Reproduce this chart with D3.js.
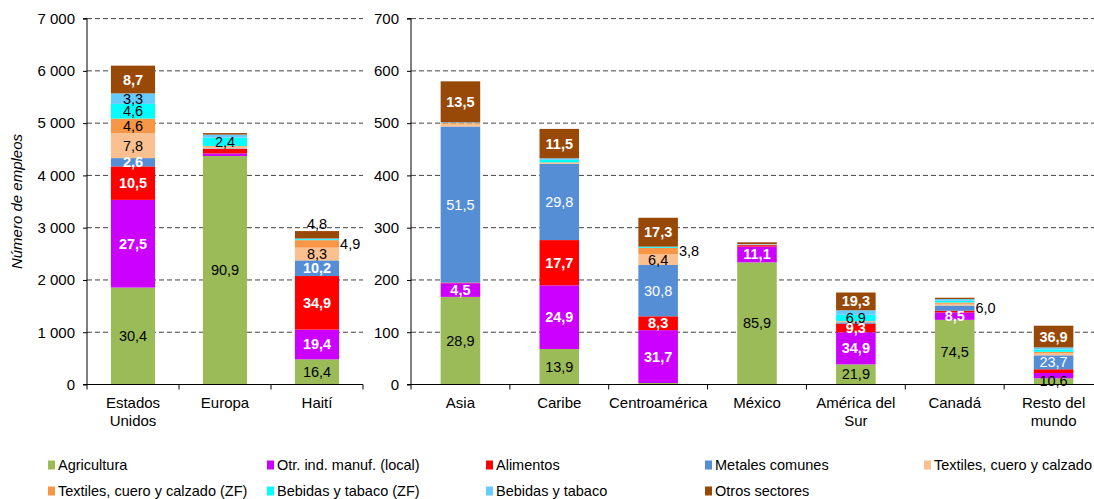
<!DOCTYPE html>
<html>
<head>
<meta charset="utf-8">
<script src="https://cdn.jsdelivr.net/npm/d3@7"></script>
<style>
  html, body { margin: 0; padding: 0; background: #fff; }
  svg { display: block; font-family: "Liberation Sans", Arial, sans-serif; }
</style>
</head>
<body>
<svg id="chart" width="1094" height="499"></svg>
<script>
// ---------------- DATA ----------------
const categories = ["Estados Unidos", "Europa", "Haití", "Asia", "Caribe", "Centroamérica", "México", "América del Sur", "Canadá", "Resto del mundo"];
const categoryLines = [["Estados", "Unidos"], ["Europa"], ["Haití"], ["Asia"], ["Caribe"], ["Centroamérica"], ["México"], ["América del", "Sur"], ["Canadá"], ["Resto del", "mundo"]];
const totals = [6100, 4810, 2935, 580, 489, 319, 272, 176, 166, 112.5];

const seriesNames = ["Agricultura", "Otr. ind. manuf. (local)", "Alimentos", "Metales comunes", "Textiles, cuero y calzado",
  "Textiles, cuero y calzado (ZF)", "Bebidas y tabaco (ZF)", "Bebidas y tabaco", "Otros sectores"];
const seriesColors = ["#9BBB59", "#CC00FF", "#FF0000", "#558ED5", "#FAC090", "#F79646", "#00FFFF", "#66CCFF", "#984807"];

// shares (%) of each sector per destination
const agricultura   = [30.4, 90.9, 16.4, 28.9, 13.9,  0.9, 85.9, 21.9, 74.5, 10.6];
const otrManuf      = [27.5,  1.0, 19.4,  4.5, 24.9, 31.7, 11.1, 34.9,  8.5,  9.0];
const alimentos     = [10.5,  1.8, 34.9,  0.2, 17.7,  8.3,  1.0,  9.3,  2.0,  6.3];
const metales       = [ 2.6,  0.2, 10.2, 51.5, 29.8, 30.8,  0.2,  1.5,  6.0, 23.7];
const textiles      = [ 7.8,  0.7,  8.3,  1.0,  0.4,  6.4,  0.3,  1.0,  2.0,  3.5];
const textilesZF    = [ 4.6,  0.3,  4.9,  0.2,  0.2,  3.8,  0.0,  0.3,  1.5,  2.5];
const bebidasZF     = [ 4.6,  3.3,  0.6,  0.0,  1.0,  0.5,  0.0,  6.9,  2.0,  4.0];
const bebidas       = [ 3.3,  1.2,  0.5,  0.2,  0.6,  0.3,  0.3,  4.9,  2.0,  3.5];
const otros         = [ 8.7,  0.6,  4.8, 13.5, 11.5, 17.3,  1.2, 19.3,  1.5, 36.9];

// data labels shown in the chart (null = not shown)
const lblAgricultura = ["30,4", "90,9", "16,4", "28,9", "13,9", null, "85,9", "21,9", "74,5", "10,6"];
const lblOtrManuf    = ["27,5", null, "19,4", "4,5", "24,9", "31,7", "11,1", "34,9", "8,5", null];
const lblAlimentos   = ["10,5", null, "34,9", null, "17,7", "8,3", null, "9,3", null, null];
const lblMetales     = ["2,6", null, "10,2", "51,5", "29,8", "30,8", null, null, "6,0", "23,7"];
const lblTextiles    = ["7,8", null, "8,3", null, null, "6,4", null, null, null, null];
const lblTextilesZF  = ["4,6", null, "4,9", null, null, "3,8", null, null, null, null];
const lblBebidasZF   = ["4,6", "2,4", null, null, null, null, null, "6,9", null, null];
const lblBebidas     = ["3,3", null, null, null, null, null, null, null, null, null];
const lblOtros       = ["8,7", null, "4,8", "13,5", "11,5", "17,3", null, "19,3", null, "36,9"];

const leftTicks = [0, 1000, 2000, 3000, 4000, 5000, 6000, 7000];
const rightTicks = [0, 100, 200, 300, 400, 500, 600, 700];
const yTitle = "Número de empleos";

// ---------------- DRAW ----------------
const shares = [agricultura, otrManuf, alimentos, metales, textiles, textilesZF, bebidasZF, bebidas, otros];
const labels = [lblAgricultura, lblOtrManuf, lblAlimentos, lblMetales, lblTextiles, lblTextilesZF, lblBebidasZF, lblBebidas, lblOtros];

const svg = d3.select("#chart");
const FONT = "\"Liberation Sans\", Arial, sans-serif";

const rows = categories.map((c, i) => {
  const r = { cat: c, idx: i };
  seriesNames.forEach((s, k) => { r[s] = totals[i] * shares[k][i] / 100; });
  return r;
});
const stacked = d3.stack().keys(seriesNames)(rows);

const panels = [
  { cats: categories.slice(0, 3), x0: 87, x1: 363, max: 7000, ticks: leftTicks, pad: 0.52 },
  { cats: categories.slice(3), x0: 411, x1: 1103, max: 700, ticks: rightTicks, pad: 0.6 }
];
const yBottom = 384.5, yTop = 18.6;
const fmt = v => d3.format(",")(v).replace(/,/g, " ");

// label style rules
const boldSeries = new Set([1, 2, 8]);
const whiteSeries = new Set([1, 2, 3, 8]);
const outside = { "5-2": "right", "5-5": "right", "3-8": "right", "8-2": "above" };

panels.forEach((p, pi) => {
  const x = d3.scaleBand().domain(p.cats).range([p.x0, p.x1]).paddingInner(p.pad).paddingOuter(p.pad / 2);
  const y = d3.scaleLinear().domain([0, p.max]).range([yBottom, yTop]);
  const g = svg.append("g");

  // gridlines
  g.selectAll("line.grid").data(p.ticks.filter(t => t > 0)).join("line")
    .attr("x1", p.x0).attr("x2", p.x1)
    .attr("y1", d => y(d)).attr("y2", d => y(d))
    .attr("stroke", "#444").attr("stroke-width", 1).attr("stroke-dasharray", "5,3");

  // y axis
  const yAxis = d3.axisLeft(y).tickValues(p.ticks).tickFormat(fmt).tickSize(4).tickPadding(8);
  const ya = g.append("g").attr("transform", `translate(${p.x0},0)`).call(yAxis);
  ya.select(".domain").attr("stroke", "#000").attr("d", `M-4,${yTop}H0V${yBottom}H-4`);
  ya.selectAll("text").attr("font-size", 15).attr("font-family", FONT).attr("fill", "#000");

  // bars
  stacked.forEach((layer, k) => {
    layer.forEach((d, i) => {
      const cat = categories[i];
      if (!p.cats.includes(cat)) return;
      if (d[1] - d[0] <= 0) return;
      g.append("rect")
        .attr("x", x(cat)).attr("width", x.bandwidth())
        .attr("y", y(d[1])).attr("height", y(d[0]) - y(d[1]))
        .attr("fill", seriesColors[k]);
    });
  });

  // x axis line + ticks at category boundaries
  g.append("line").attr("x1", p.x0).attr("x2", p.x1).attr("y1", yBottom).attr("y2", yBottom)
    .attr("stroke", "#000").attr("stroke-width", 1.2);
  const step = (p.x1 - p.x0) / p.cats.length;
  const bounds = d3.range(p.cats.length + 1).map(j => p.x0 + j * step);
  g.selectAll("line.xt").data(bounds).join("line")
    .attr("x1", d => d).attr("x2", d => d).attr("y1", yBottom).attr("y2", yBottom + 5)
    .attr("stroke", "#000");

  // category labels
  p.cats.forEach(cat => {
    const i = categories.indexOf(cat);
    const t = g.append("text").attr("text-anchor", "middle")
      .attr("font-size", 15).attr("font-family", FONT).attr("fill", "#000");
    categoryLines[i].forEach((ln, j) => {
      t.append("tspan").attr("x", x(cat) + x.bandwidth() / 2).attr("y", 408 + j * 18).text(ln);
    });
  });

  // data labels
  stacked.forEach((layer, k) => {
    layer.forEach((d, i) => {
      const cat = categories[i];
      if (!p.cats.includes(cat)) return;
      const txt = labels[k][i];
      if (!txt) return;
      const key = k + "-" + i;
      const pos = outside[key];
      const cx = x(cat) + x.bandwidth() / 2;
      const cy = (y(d[0]) + y(d[1])) / 2;
      const t = g.append("text").attr("font-size", 14.5).attr("font-family", FONT)
        .attr("dominant-baseline", "central").text(txt);
      if (pos === "right") {
        t.attr("x", x(cat) + x.bandwidth() + 1).attr("y", cy).attr("text-anchor", "start").attr("fill", "#000");
      } else if (pos === "above") {
        t.attr("x", cx).attr("y", y(d[1]) - 7).attr("text-anchor", "middle").attr("fill", "#000");
      } else {
        const bold = boldSeries.has(k) || (k === 3 && pi === 0);
        t.attr("x", cx).attr("y", cy).attr("text-anchor", "middle")
          .attr("fill", whiteSeries.has(k) ? "#fff" : "#000")
          .attr("font-weight", bold ? "bold" : "normal");
      }
    });
  });
});

// y axis title
svg.append("text")
  .attr("transform", `translate(22,${(yTop + yBottom) / 2}) rotate(-90)`)
  .attr("text-anchor", "middle").attr("font-size", 15).attr("font-style", "italic")
  .attr("font-family", FONT).text(yTitle);

// legend
const legCols = [48, 267, 486, 705, 924];
seriesNames.forEach((s, k) => {
  const row = k < 5 ? 0 : 1;
  const col = k < 5 ? k : k - 5;
  const lx = legCols[col], ly = row === 0 ? 465 : 491;
  svg.append("rect").attr("x", lx).attr("y", ly - 4.5).attr("width", 7).attr("height", 9).attr("fill", seriesColors[k]);
  svg.append("text").attr("x", lx + 10).attr("y", ly).attr("dominant-baseline", "central")
    .attr("font-size", 14.5).attr("font-family", FONT).text(s);
});
</script>
</body>
</html>
